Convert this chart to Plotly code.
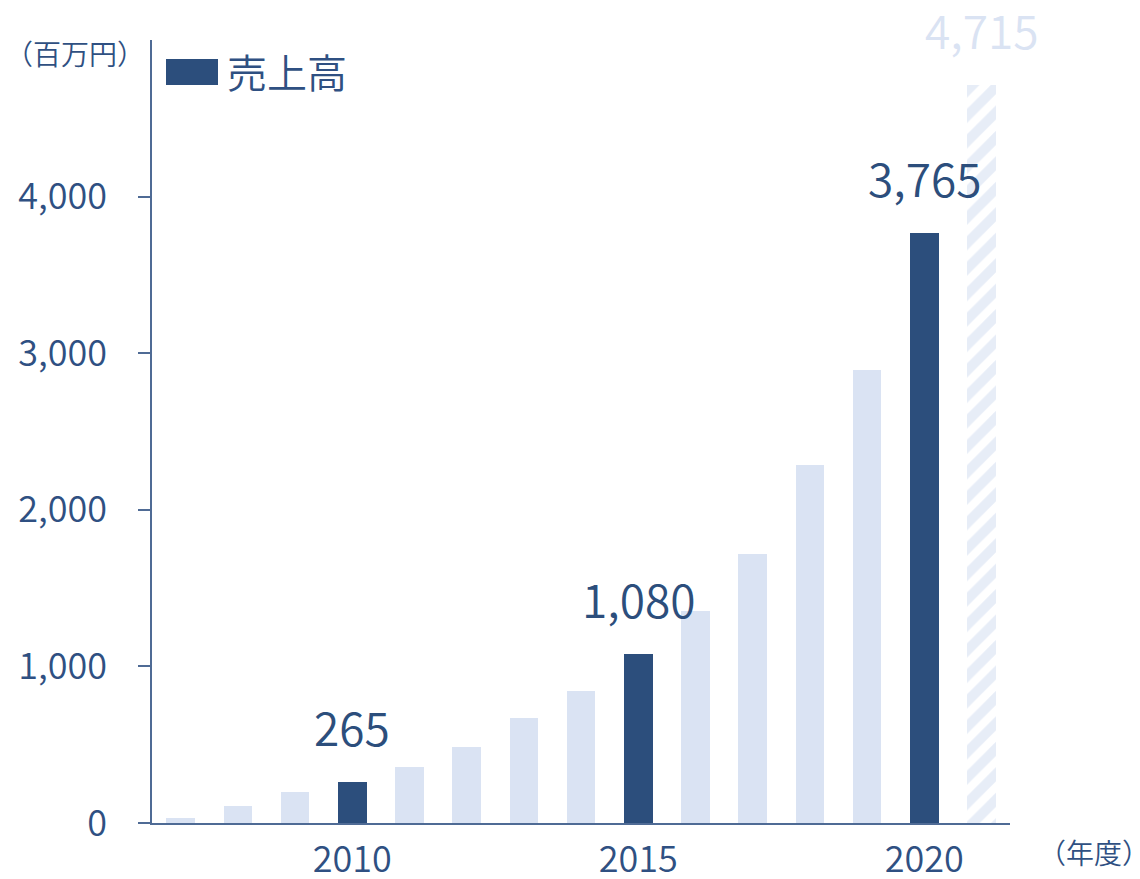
import plotly.graph_objects as go

years = [2007, 2008, 2009, 2010, 2011, 2012, 2013, 2014, 2015, 2016, 2017, 2018, 2019, 2020, 2021]
sales = [35, 110, 195, 265, 355, 483, 670, 844, 1080, 1352, 1716, 2284, 2890, 3765, 4715]
highlight_years = [2010, 2015, 2020]
forecast_years = [2021]
legend_name = "売上高"
y_unit = "（百万円）"
x_unit = "（年度）"
y_ticks = [0, 1000, 2000, 3000, 4000]
x_ticks = [2010, 2015, 2020]

DARK = "#2C4E7C"
LIGHT = "#DAE3F3"
HATCH = "#CFDBF0"
TEXT = "#2F5082"
AXIS = "#4F6B95"
FONT = "Noto Sans CJK JP"
W = 350

# page body has an 8px margin; figure sized to fit the window
OFF = 8
L, T = 152 - OFF, 40 - OFF
PW, PH = 858, 783
FW, FH = 1140 - OFF, 879 - OFF


def px(x):
    return (x - OFF - L) / PW


def py(y):
    return (T + PH - (y - OFF)) / PH


light_x = [y for y in years if y not in highlight_years and y not in forecast_years]
light_v = [v for y, v in zip(years, sales) if y in light_x]
dark_x = [y for y in years if y in highlight_years]
dark_v = [v for y, v in zip(years, sales) if y in dark_x]
fc_x = [y for y in years if y in forecast_years]
fc_v = [v for y, v in zip(years, sales) if y in fc_x]

fig = go.Figure()
fig.add_trace(go.Bar(x=light_x, y=light_v, width=0.5, marker=dict(color=LIGHT, line=dict(width=0)),
                     showlegend=False))
fig.add_trace(go.Bar(x=dark_x, y=dark_v, width=0.5, name=legend_name,
                     marker=dict(color=DARK, line=dict(width=0)), showlegend=False))
fig.add_trace(go.Bar(x=fc_x, y=fc_v, width=0.5,
                     marker=dict(color="white", line=dict(width=0),
                                 pattern=dict(shape="/", fgcolor=HATCH, bgcolor="white",
                                              size=18, solidity=0.55, fillmode="overlay")),
                     showlegend=False))

for x, v in zip(dark_x, dark_v):
    fig.add_annotation(x=x, y=v, text=f"{v:,}", showarrow=False, yanchor="bottom", yshift=21,
                       font=dict(family=FONT, size=46, color=DARK, weight=W))
for x, v in zip(fc_x, fc_v):
    fig.add_annotation(x=x, y=v, text=f"{v:,}", showarrow=False, yanchor="bottom", yshift=21,
                       font=dict(family=FONT, size=46, color=LIGHT, weight=W))

# legend (manual)
fig.add_shape(type="rect", xref="paper", yref="paper",
              x0=px(166), x1=px(218), y0=py(85), y1=py(59),
              fillcolor=DARK, line=dict(width=0))
fig.add_annotation(xref="paper", yref="paper", x=px(225), y=py(71),
                   text=legend_name, showarrow=False, xanchor="left", yanchor="middle",
                   font=dict(family=FONT, size=40, color=TEXT, weight=W))
# units
fig.add_annotation(xref="paper", yref="paper", x=px(75), y=py(53),
                   text=y_unit, showarrow=False, xanchor="center", yanchor="middle",
                   font=dict(family=FONT, size=28, color=TEXT, weight=W))
fig.add_annotation(xref="paper", yref="paper", x=px(1094), y=py(852),
                   text=x_unit, showarrow=False, xanchor="center", yanchor="middle",
                   font=dict(family=FONT, size=28, color=TEXT, weight=W))

fig.update_layout(
    width=FW, height=FH,
    margin=dict(l=L, r=FW - L - PW, t=T, b=FH - T - PH, autoexpand=False),
    paper_bgcolor="white", plot_bgcolor="white",
    barmode="overlay", bargap=0,
    showlegend=False,
    font=dict(family=FONT, color=TEXT),
)
fig.update_xaxes(range=[2006.5, 2021.5], tickvals=x_ticks, ticktext=[str(t) for t in x_ticks],
                 showline=True, linecolor=AXIS, linewidth=1.5, ticks="", showgrid=False,
                 zeroline=False, tickfont=dict(family=FONT, size=36, color=TEXT, weight=W),
                 ticklabelstandoff=4, automargin=False)
fig.update_yaxes(range=[0, 5000], tickvals=y_ticks, ticktext=[f"{t:,}" for t in y_ticks],
                 showline=True, linecolor=AXIS, linewidth=1.5, ticks="outside", ticklen=12,
                 tickcolor=AXIS, tickwidth=1.5, showgrid=False, zeroline=False,
                 tickfont=dict(family=FONT, size=36, color=TEXT, weight=W), ticklabelstandoff=24,
                 automargin=False)

fig.write_html("out.html")
